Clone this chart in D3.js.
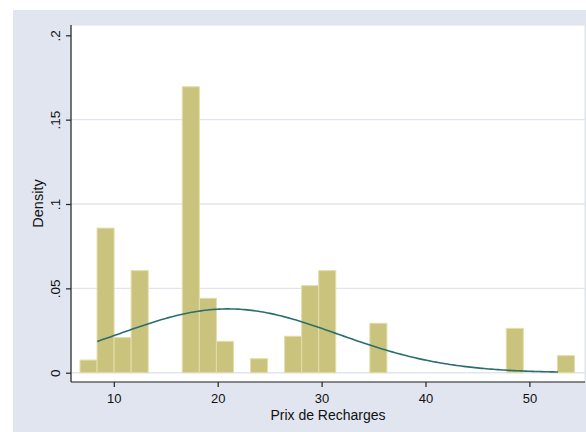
<!DOCTYPE html>
<html>
<head>
<meta charset="utf-8">
<script src="https://cdn.jsdelivr.net/npm/d3@7"></script>
<style>
  html, body { margin: 0; padding: 0; background: #ffffff; }
  svg { display: block; font-family: "Liberation Sans", Arial, Helvetica, sans-serif; }
</style>
</head>
<body>
<svg id="chart" width="586" height="432"></svg>
<script>
// Histogram of recharge prices (density scale) with a fitted normal curve
const binStart = 6.747;        // left edge of the first bin
const binWidth = 1.641;        // width of each bin
const binDensity = [
  0.0075, 0.0857, 0.0208, 0.0605, 0, 0, 0.1695, 0.0441, 0.0186, 0,
  0.0083, 0, 0.0216, 0.0516, 0.0605, 0, 0, 0.0293, 0, 0,
  0, 0, 0, 0, 0, 0.0263, 0, 0, 0.0101
];

// fitted normal density parameters and the span it is drawn over
const fitMean = 21.0;
const fitSd = 10.55;
const fitFrom = 8.4;
const fitTo = 52.75;

const xTicks = [10, 20, 30, 40, 50];
const yTicks = [0, 0.05, 0.1, 0.15, 0.2];
const yTickLabels = ["0", ".05", ".1", ".15", ".2"];
const xTitle = "Prix de Recharges";
const yTitle = "Density";

const svg = d3.select("#chart");

// outer graph region
const region = { left: 13, top: 10, right: 586, bottom: 432 };
const plot = { left: 71, top: 25, right: 585, bottom: 382 };

svg.append("rect")
  .attr("x", region.left).attr("y", region.top)
  .attr("width", region.right - region.left)
  .attr("height", region.bottom - region.top)
  .attr("fill", "#e0e5ef");

svg.append("rect")
  .attr("x", plot.left).attr("y", plot.top)
  .attr("width", plot.right - plot.left)
  .attr("height", plot.bottom - plot.top)
  .attr("fill", "#ffffff")
  .attr("stroke", "#dde2ea")
  .attr("stroke-width", 1);

const x = d3.scaleLinear().domain([10, 50]).range([113.8, 529.4]);
const y = d3.scaleLinear().domain([0, 0.2]).range([372.7, 35.3]);

// horizontal grid lines
svg.append("g")
  .selectAll("line")
  .data(yTicks.filter(t => t < 0.2))
  .join("line")
  .attr("x1", plot.left).attr("x2", plot.right)
  .attr("y1", d => y(d)).attr("y2", d => y(d))
  .attr("stroke", "#e1e5ef")
  .attr("stroke-width", 1.4);

// histogram bars
const bins = binDensity.map((d, i) => ({
  x0: binStart + i * binWidth,
  x1: binStart + (i + 1) * binWidth,
  density: d
})).filter(b => b.density > 0);

svg.append("g")
  .selectAll("rect")
  .data(bins)
  .join("rect")
  .attr("x", d => x(d.x0))
  .attr("width", d => x(d.x1) - x(d.x0))
  .attr("y", d => y(d.density))
  .attr("height", d => y(0) - y(d.density))
  .attr("fill", "#cac37e")
  .attr("stroke", "#e2dea9")
  .attr("stroke-width", 1);

// normal density overlay
const normalPdf = v => Math.exp(-0.5 * ((v - fitMean) / fitSd) ** 2) / (fitSd * Math.sqrt(2 * Math.PI));
const curveX = d3.range(0, 201).map(i => fitFrom + (fitTo - fitFrom) * i / 200);

svg.append("path")
  .datum(curveX)
  .attr("fill", "none")
  .attr("stroke", "#2a6f6b")
  .attr("stroke-width", 1.6)
  .attr("d", d3.line().x(v => x(v)).y(v => y(normalPdf(v))));

// x axis
const xAxis = svg.append("g")
  .attr("transform", `translate(0,${plot.bottom})`)
  .call(d3.axisBottom(x).tickValues(xTicks).tickSize(5).tickPadding(7).tickFormat(d3.format("d")));
xAxis.select(".domain").attr("d", `M${plot.left},0H${plot.right}`).attr("stroke", "#222").attr("stroke-width", 1.2);
xAxis.selectAll(".tick line").attr("stroke", "#222").attr("stroke-width", 1.2);
xAxis.selectAll(".tick text").attr("font-size", 13).attr("fill", "#111")
  .attr("font-family", "Liberation Sans, Arial, sans-serif");

// y axis
const yAxis = svg.append("g")
  .attr("transform", `translate(${plot.left},0)`)
  .call(d3.axisLeft(y).tickValues(yTicks).tickSize(5).tickFormat((d, i) => yTickLabels[i]));
yAxis.select(".domain").attr("d", `M0,${plot.top}V${plot.bottom}`).attr("stroke", "#222").attr("stroke-width", 1.2);
yAxis.selectAll(".tick line").attr("stroke", "#222").attr("stroke-width", 1.2);
yAxis.selectAll(".tick text")
  .attr("font-size", 13.5).attr("fill", "#111")
  .attr("font-family", "Liberation Sans, Arial, sans-serif")
  .attr("x", null).attr("dy", null)
  .attr("text-anchor", "middle")
  .attr("transform", "translate(-16,0) rotate(-90)")
  .attr("dy", "0.35em");

// axis titles
svg.append("text")
  .attr("x", (plot.left + plot.right) / 2)
  .attr("y", 420)
  .attr("text-anchor", "middle")
  .attr("font-size", 14)
  .attr("fill", "#111")
  .text(xTitle);

svg.append("text")
  .attr("transform", `translate(38,${(plot.top + plot.bottom) / 2}) rotate(-90)`)
  .attr("text-anchor", "middle")
  .attr("dy", "0.35em")
  .attr("font-size", 14.5)
  .attr("fill", "#111")
  .text(yTitle);
</script>
</body>
</html>
